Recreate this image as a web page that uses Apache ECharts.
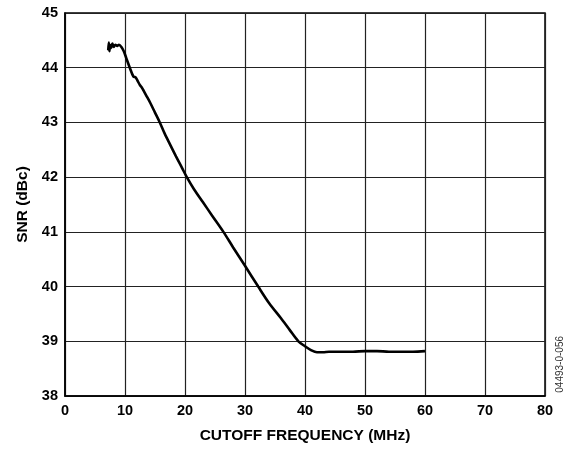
<!DOCTYPE html>
<html><head><meta charset="utf-8">
<script src="https://cdn.jsdelivr.net/npm/echarts@6/dist/echarts.min.js"></script>
<style>html,body{margin:0;padding:0;background:#fff}#c{width:565px;height:449px}</style>
</head><body><div id="c"></div>
<script>
const freqMHz = [7.2,7.3,7.4,7.5,7.7,7.9,8.1,8.4,8.7,9.0,9.4,9.8,10.2,10.8,11.4,11.8,12.1,12.5,12.8,13.1,13.5,14.2,15.0,15.8,16.6,17.5,18.5,19.5,20.3,21.5,23,24.5,26.4,28,30,32.2,34,36,37.5,38.9,40,41,42,43,44,46,48,50,52,54,56,58,60];
const snrDbc = [44.32,44.46,44.30,44.42,44.36,44.44,44.38,44.42,44.40,44.42,44.38,44.30,44.18,44.0,43.84,43.82,43.76,43.68,43.64,43.58,43.50,43.36,43.18,43.0,42.80,42.60,42.38,42.17,42.0,41.78,41.54,41.30,41.0,40.72,40.38,40.0,39.70,39.42,39.20,39.0,38.91,38.84,38.80,38.80,38.81,38.81,38.81,38.82,38.82,38.81,38.81,38.81,38.82];
const xTicks = [0,10,20,30,40,50,60,70,80];
const yTicks = [38,39,40,41,42,43,44,45];
const xName = 'CUTOFF FREQUENCY (MHz)';
const yName = 'SNR (dBc)';
const codeText = '04493-0-056';

const chart = echarts.init(document.getElementById('c'), null, {renderer:'canvas'});
const font = 'Arial, "Liberation Sans", sans-serif';
chart.setOption({
  animation:false,
  grid:{left:65, top:13, width:480, height:383, show:true, borderColor:'#000', borderWidth:1.5, backgroundColor:'transparent'},
  xAxis:{type:'value', min:xTicks[0], max:xTicks[xTicks.length-1], interval:10,
    name:xName, nameLocation:'middle', nameGap:32,
    nameTextStyle:{fontFamily:font, fontWeight:'bold', fontSize:15.5, color:'#000'},
    axisLine:{show:true, lineStyle:{color:'#000', width:1.5}}, axisTick:{show:false},
    axisLabel:{fontFamily:font, fontWeight:'bold', fontSize:14.5, color:'#000', margin:7},
    splitLine:{show:true, lineStyle:{color:'#222', width:1.2}}},
  yAxis:{type:'value', min:yTicks[0], max:yTicks[yTicks.length-1], interval:1,
    name:yName, nameLocation:'middle', nameGap:33,
    nameTextStyle:{fontFamily:font, fontWeight:'bold', fontSize:15.5, color:'#000'},
    axisLine:{show:true, lineStyle:{color:'#000', width:1.5}}, axisTick:{show:false},
    axisLabel:{fontFamily:font, fontWeight:'bold', fontSize:14.5, color:'#000', margin:7},
    splitLine:{show:true, lineStyle:{color:'#222', width:1.2}}},
  graphic:[{type:'text', left:555, top:336, rotation:Math.PI/2,
    style:{text:codeText, font:'10px Arial, "Liberation Sans", sans-serif', fill:'#333'}}],
  series:[{type:'line', data:freqMHz.map((f,i)=>[f,snrDbc[i]]), showSymbol:false, smooth:0.3,
    lineStyle:{color:'#000', width:2.6}}]
});
</script></body></html>
